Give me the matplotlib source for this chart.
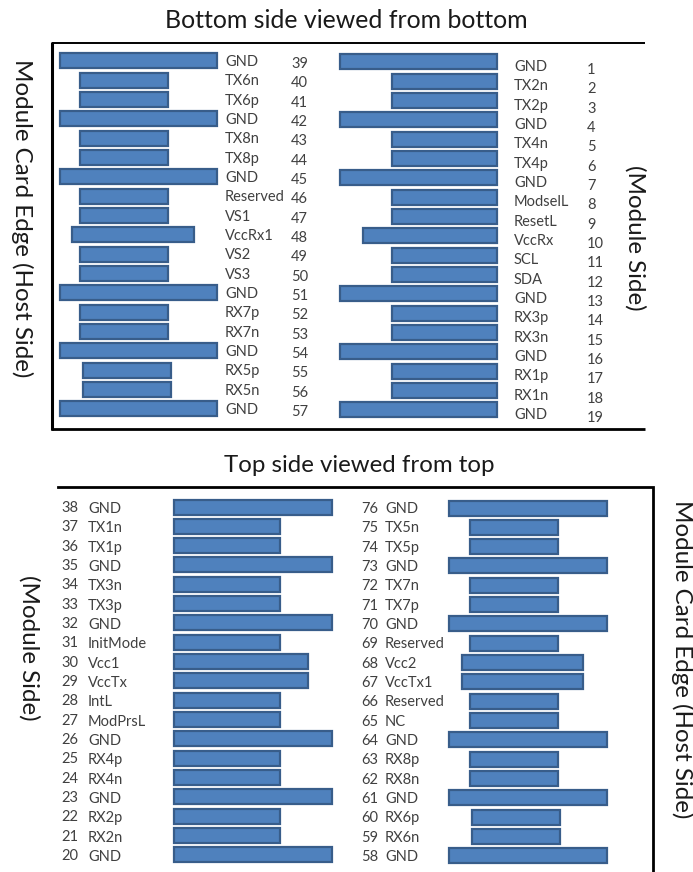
# -*- coding: utf-8 -*-
# QSFP-DD style module pad layout, bottom and top side of the card

import matplotlib
matplotlib.use("Agg")
import matplotlib.pyplot as plt

plt.rcParams['font.family'] = ['Lato', 'DejaVu Sans']

# bottom side, left column
bl_pins = [39, 40, 41, 42, 43, 44, 45, 46, 47, 48, 49, 50, 51, 52, 53, 54, 55, 56, 57]
bl_names = ["GND", "TX6n", "TX6p", "GND", "TX8n", "TX8p", "GND", "Reserved", "VS1", "VccRx1",
            "VS2", "VS3", "GND", "RX7p", "RX7n", "GND", "RX5p", "RX5n", "GND"]
bl_kind = ["G", "S", "S", "G", "S", "S", "G", "S", "S", "M", "S", "S", "G", "S", "S", "G", "O", "O", "G"]

# bottom side, right column
br_pins = [1, 2, 3, 4, 5, 6, 7, 8, 9, 10, 11, 12, 13, 14, 15, 16, 17, 18, 19]
br_names = ["GND", "TX2n", "TX2p", "GND", "TX4n", "TX4p", "GND", "ModselL", "ResetL", "VccRx",
            "SCL", "SDA", "GND", "RX3p", "RX3n", "GND", "RX1p", "RX1n", "GND"]
br_kind = ["G", "S", "S", "G", "S", "S", "G", "S", "S", "M", "S", "S", "G", "S", "S", "G", "S", "S", "G"]

# top side, left column
tl_pins = [38, 37, 36, 35, 34, 33, 32, 31, 30, 29, 28, 27, 26, 25, 24, 23, 22, 21, 20]
tl_names = ["GND", "TX1n", "TX1p", "GND", "TX3n", "TX3p", "GND", "InitMode", "Vcc1", "VccTx",
            "IntL", "ModPrsL", "GND", "RX4p", "RX4n", "GND", "RX2p", "RX2n", "GND"]
tl_kind = ["G", "S", "S", "G", "S", "S", "G", "S", "M", "M", "S", "S", "G", "S", "S", "G", "S", "S", "G"]

# top side, right column
tr_pins = [76, 75, 74, 73, 72, 71, 70, 69, 68, 67, 66, 65, 64, 63, 62, 61, 60, 59, 58]
tr_names = ["GND", "TX5n", "TX5p", "GND", "TX7n", "TX7p", "GND", "Reserved", "Vcc2", "VccTx1",
            "Reserved", "NC", "GND", "RX8p", "RX8n", "GND", "RX6p", "RX6n", "GND"]
tr_kind = ["G", "S", "S", "G", "S", "S", "G", "S", "M", "M", "S", "S", "G", "S", "S", "G", "O", "O", "G"]

PAD_FILL = "#4f81bd"
PAD_EDGE = "#385d8a"
TEXT_COL = "#404040"
HEAD_COL = "#1a1a1a"

fig = plt.figure(figsize=(6.93, 8.72), dpi=100)
ax = fig.add_axes([0, 0, 1, 1])
ax.set_xlim(0, 693)
ax.set_ylim(872, 0)
ax.axis("off")


def draw_column(pins, names, kinds, extents, y0, label_x, num_x, label_dy, num_dy):
    # rows are evenly spaced, 19.33 px apart
    for i in range(len(pins)):
        y = y0 + i * 19.33
        left, right = extents[kinds[i]]
        ax.barh(y, right - left, left=left, height=15, color=PAD_FILL, edgecolor=PAD_EDGE, linewidth=1.6)
        ax.text(label_x, y + label_dy, names[i], fontsize=10.5, color=TEXT_COL, ha="left", va="center")
        ax.text(num_x, y + num_dy, str(pins[i]), fontsize=10.5, color=TEXT_COL, ha="left", va="center")


draw_column(bl_pins, bl_names, bl_kind, {"G": (60, 217), "S": (80, 168), "M": (72, 194), "O": (83, 171)},
            61, 225, 291, 1, 3)
draw_column(br_pins, br_names, br_kind, {"G": (340, 497), "S": (392, 497), "M": (363, 497)},
            62, 514, 587, 5, 8)
draw_column(tl_pins, tl_names, tl_kind, {"G": (174, 332), "S": (174, 280), "M": (174, 308)},
            507, 88, 61, 2, 1)
draw_column(tr_pins, tr_names, tr_kind, {"G": (449, 607), "S": (470, 558), "M": (462, 583), "O": (472, 560)},
            508, 385, 361, 1, 1)

# frames, open on one side
ax.plot([645, 52], [43, 43], color="black", linewidth=1.4, solid_capstyle="butt")
ax.plot([52, 52], [42, 430], color="black", linewidth=2.2, solid_capstyle="butt")
ax.plot([51, 645], [429, 429], color="black", linewidth=2.0, solid_capstyle="butt")
ax.plot([58, 653, 653], [487, 487, 872], color="black", linewidth=2.0, solid_joinstyle="miter")

ax.text(346, 20, "Bottom side viewed from bottom", fontsize=17.9, color=HEAD_COL, ha="center", va="center")
ax.text(359, 465, "Top side viewed from top", fontsize=17.3, color=HEAD_COL, ha="center", va="center")

ax.text(22, 218, "Module Card Edge (Host Side)", fontsize=17.4, color=HEAD_COL, rotation=270, ha="center", va="center")
ax.text(635, 238, "(Module Side)", fontsize=17.4, color=HEAD_COL, rotation=270, ha="center", va="center")
ax.text(29, 648, "(Module Side)", fontsize=17.4, color=HEAD_COL, rotation=270, ha="center", va="center")
ax.text(682, 659, "Module Card Edge (Host Side)", fontsize=17.4, color=HEAD_COL, rotation=270, ha="center", va="center")

fig.savefig("out.png", dpi=100)
